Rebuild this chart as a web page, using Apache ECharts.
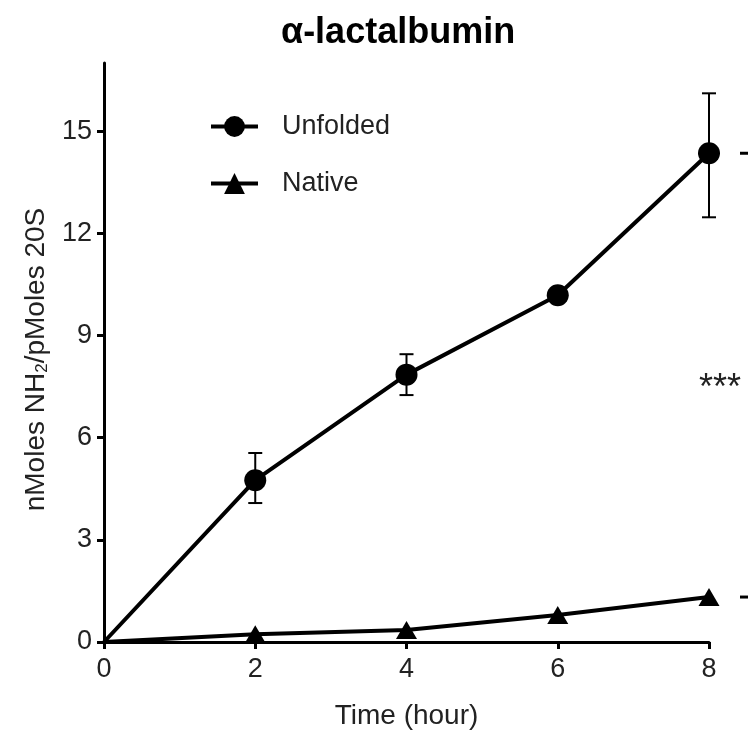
<!DOCTYPE html>
<html>
<head>
<meta charset="utf-8">
<title>α-lactalbumin</title>
<script src="https://cdn.jsdelivr.net/npm/echarts@6/dist/echarts.min.js"></script>
<style>
  html, body { margin: 0; padding: 0; background: #fff; }
  #chart { width: 748px; height: 734px; }
</style>
</head>
<body>
<div id="chart"></div>
<script>
// 数据
const hours = [0, 2, 4, 6, 8]
const unfolded = [0, 4.75, 7.85, 10.18, 14.35]
const unfoldedLow = [0, 4.08, 7.25, 10.05, 12.47]
const unfoldedHigh = [0, 5.55, 8.45, 10.32, 16.11]
const native = [0, 0.23, 0.35, 0.79, 1.32]
const yTicks = [0, 3, 6, 9, 12, 15]
const xTicks = [0, 2, 4, 6, 8]
const sigLabel = '***'

const font = 'Liberation Sans, Arial, sans-serif'
const chart = echarts.init(document.getElementById('chart'))

function renderErr (params, api) { // 误差棒
  const x = api.value(0)
  const lo = api.coord([x, api.value(1)])
  const hi = api.coord([x, api.value(2)])
  const half = 7
  const st = { stroke: '#000', lineWidth: 2 }
  return {
    type: 'group',
    children: [
      { type: 'line', shape: { x1: lo[0], y1: lo[1], x2: hi[0], y2: hi[1] }, style: st },
      { type: 'line', shape: { x1: lo[0] - half, y1: lo[1], x2: lo[0] + half, y2: lo[1] }, style: st },
      { type: 'line', shape: { x1: hi[0] - half, y1: hi[1], x2: hi[0] + half, y2: hi[1] }, style: st }
    ]
  }
}

// 原点不画标记
function toPoints (vals) {
  return hours.map((h, i) => (h === 0 ? { value: [h, vals[i]], symbol: 'none' } : [h, vals[i]]))
}

const option = {
  backgroundColor: '#fff',
  animation: false,
  title: {
    text: 'α-lactalbumin',
    left: 276,
    top: 10,
    textStyle: { fontFamily: font, fontSize: 36, fontWeight: 'bold', color: '#000' }
  },
  legend: {
    orient: 'vertical',
    left: 204,
    top: 108,
    itemWidth: 47,
    itemHeight: 26,
    itemGap: 30,
    data: ['Unfolded', 'Native'],
    lineStyle: { width: 4 },
    textStyle: { fontFamily: font, fontSize: 27, color: '#222', padding: [0, 0, 0, 19] }
  },
  grid: { left: 104, right: 39, top: 63, bottom: 92, containLabel: false, outerBoundsMode: 'none' },
  xAxis: {
    type: 'value',
    min: 0,
    max: 8,
    interval: 2,
    name: 'Time (hour)',
    nameLocation: 'middle',
    nameGap: 60,
    nameTextStyle: { fontFamily: font, fontSize: 28, color: '#222' },
    splitLine: { show: false },
    axisLine: { lineStyle: { color: '#000', width: 3 } },
    axisTick: { length: 7, lineStyle: { color: '#000', width: 3 }, customValues: xTicks },
    axisLabel: { fontFamily: font, fontSize: 27, color: '#222', margin: 14, customValues: xTicks }
  },
  yAxis: {
    type: 'value',
    min: 0,
    max: 17,
    interval: 3,
    name: 'nMoles NH{sub|2}/pMoles 20S',
    nameLocation: 'middle',
    nameGap: 52,
    nameTextStyle: {
      fontFamily: font,
      fontSize: 28,
      color: '#222',
      padding: [0, 14, 0, 0],
      rich: {
        sub: { fontFamily: font, fontSize: 17, color: '#222', verticalAlign: 'bottom', padding: [12, 0, 0, 0] }
      }
    },
    splitLine: { show: false },
    axisLine: { lineStyle: { color: '#000', width: 3 } },
    axisTick: { length: 7, lineStyle: { color: '#000', width: 3 }, customValues: yTicks },
    axisLabel: { fontFamily: font, fontSize: 27, color: '#222', margin: 12, customValues: yTicks }
  },
  series: [
    {
      name: 'errors',
      type: 'custom',
      renderItem: renderErr,
      data: hours.map((h, i) => [h, unfoldedLow[i], unfoldedHigh[i]]),
      z: 1,
      silent: true
    },
    {
      name: 'Unfolded',
      type: 'line',
      data: toPoints(unfolded),
      symbol: 'circle',
      symbolSize: 22,
      itemStyle: { color: '#000' },
      lineStyle: { color: '#000', width: 4 },
      z: 3
    },
    {
      name: 'Native',
      type: 'line',
      data: toPoints(native),
      symbol: 'triangle',
      symbolSize: [21, 18],
      itemStyle: { color: '#000' },
      lineStyle: { color: '#000', width: 4 },
      z: 3
    }
  ]
}
chart.setOption(option)

// 右侧显著性标记（被裁掉的括号）
const topY = chart.convertToPixel({ seriesIndex: 1 }, [8, unfolded[4]])[1]
const botY = chart.convertToPixel({ seriesIndex: 2 }, [8, native[4]])[1]
chart.setOption({
  graphic: [
    { type: 'line', shape: { x1: 740, y1: topY, x2: 748, y2: topY }, style: { stroke: '#000', lineWidth: 3 } },
    { type: 'line', shape: { x1: 740, y1: botY, x2: 748, y2: botY }, style: { stroke: '#000', lineWidth: 3 } },
    {
      type: 'text',
      x: 720,
      y: (topY + botY) / 2 + 14,
      style: { text: sigLabel, fontFamily: font, fontSize: 36, fill: '#222', align: 'center', verticalAlign: 'middle' }
    }
  ]
})
</script>
</body>
</html>
